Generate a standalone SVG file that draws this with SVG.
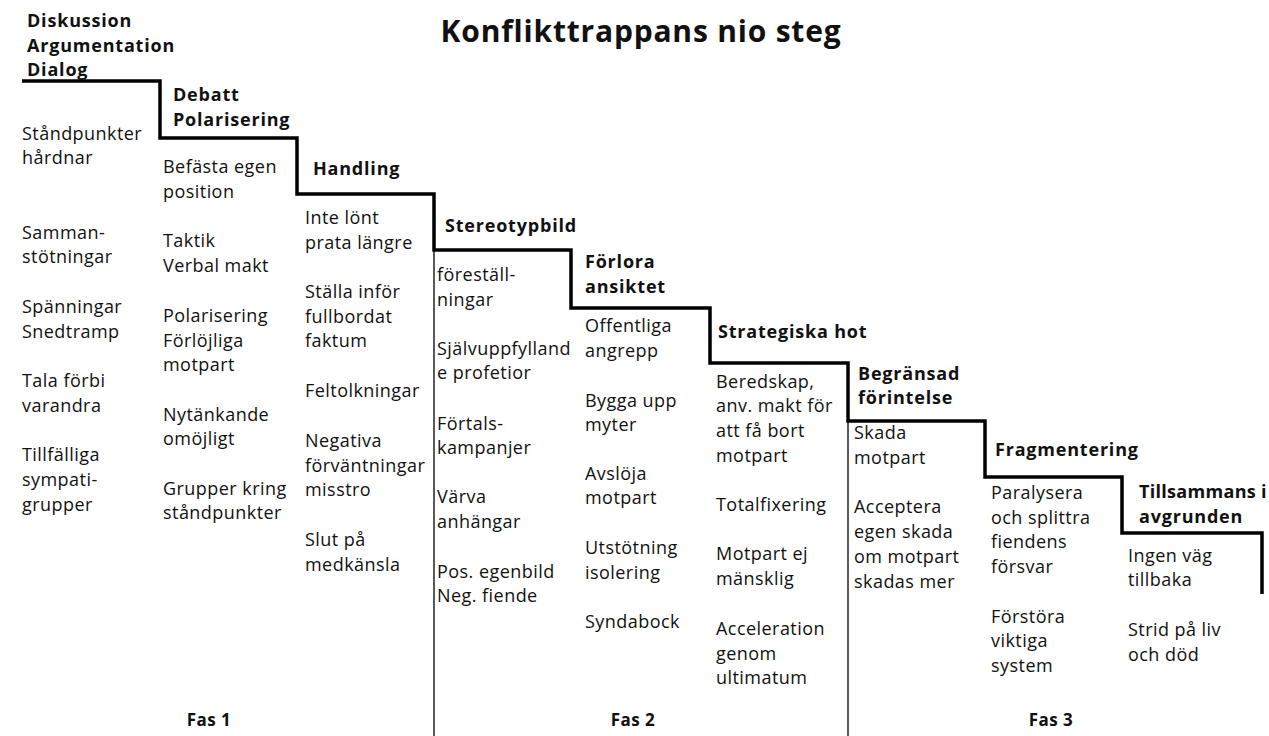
<svg xmlns="http://www.w3.org/2000/svg" width="1269" height="736" viewBox="0 0 1269 736">
<style>
text{font-family:"Open Sans","Liberation Sans",sans-serif;fill:#111}
.t{font-size:18px;letter-spacing:0.45px}
.h{font-size:18px;font-weight:bold;letter-spacing:0.8px}
.f{font-size:17px;font-weight:bold;text-anchor:middle;letter-spacing:0.5px}
.title{font-size:30px;font-weight:bold;text-anchor:middle;letter-spacing:0.8px}
.stair{fill:none;stroke:#000;stroke-width:3.5;stroke-linejoin:miter}
.div{stroke:#000;stroke-width:1.3}
</style>
<rect width="1269" height="736" fill="#fff"/>
<text class="title" x="641" y="42">Konflikttrappans nio steg</text>
<g id="connectors">
<path class="stair" d="M22 81H160V138H297V194H434V250H571V308H710V363H848V421H985V477H1122V533H1262V594"/>
<line class="div" x1="434" y1="250" x2="434" y2="736"/>
<line class="div" x1="848" y1="421" x2="848" y2="736"/>
</g>
<g id="step1">
<text class="h" x="27" y="27">Diskussion</text>
<text class="h" x="27" y="52">Argumentation</text>
<text class="h" x="27" y="76">Dialog</text>
<text class="t" x="22" y="140">Ståndpunkter</text>
<text class="t" x="22" y="164">hårdnar</text>
<text class="t" x="22" y="239">Samman-</text>
<text class="t" x="22" y="263">stötningar</text>
<text class="t" x="22" y="313">Spänningar</text>
<text class="t" x="22" y="338">Snedtramp</text>
<text class="t" x="22" y="387">Tala förbi</text>
<text class="t" x="22" y="412">varandra</text>
<text class="t" x="22" y="461">Tillfälliga</text>
<text class="t" x="22" y="486">sympati-</text>
<text class="t" x="22" y="511">grupper</text>
</g>
<g id="step2">
<text class="h" x="173" y="101">Debatt</text>
<text class="h" x="173" y="126">Polarisering</text>
<text class="t" x="163" y="173">Befästa egen</text>
<text class="t" x="163" y="198">position</text>
<text class="t" x="163" y="247">Taktik</text>
<text class="t" x="163" y="272">Verbal makt</text>
<text class="t" x="163" y="322">Polarisering</text>
<text class="t" x="163" y="347">Förlöjliga</text>
<text class="t" x="163" y="371">motpart</text>
<text class="t" x="163" y="421">Nytänkande</text>
<text class="t" x="163" y="445">omöjligt</text>
<text class="t" x="163" y="495">Grupper kring</text>
<text class="t" x="163" y="519">ståndpunkter</text>
</g>
<g id="step3">
<text class="h" x="313" y="175">Handling</text>
<text class="t" x="305" y="224">Inte lönt</text>
<text class="t" x="305" y="249">prata längre</text>
<text class="t" x="305" y="298">Ställa inför</text>
<text class="t" x="305" y="323">fullbordat</text>
<text class="t" x="305" y="347">faktum</text>
<text class="t" x="305" y="397">Feltolkningar</text>
<text class="t" x="305" y="447">Negativa</text>
<text class="t" x="305" y="472">förväntningar</text>
<text class="t" x="305" y="496">misstro</text>
<text class="t" x="305" y="546">Slut på</text>
<text class="t" x="305" y="571">medkänsla</text>
</g>
<g id="step4">
<text class="h" x="445" y="232">Stereotypbild</text>
<text class="t" x="437" y="281">föreställ-</text>
<text class="t" x="437" y="306">ningar</text>
<text class="t" x="437" y="355">Självuppfylland</text>
<text class="t" x="437" y="379">e profetior</text>
<text class="t" x="437" y="430">Förtals-</text>
<text class="t" x="437" y="454">kampanjer</text>
<text class="t" x="437" y="503">Värva</text>
<text class="t" x="437" y="528">anhängar</text>
<text class="t" x="437" y="578">Pos. egenbild</text>
<text class="t" x="437" y="602">Neg. fiende</text>
</g>
<g id="step5">
<text class="h" x="585" y="268">Förlora</text>
<text class="h" x="585" y="293">ansiktet</text>
<text class="t" x="585" y="332">Offentliga</text>
<text class="t" x="585" y="357">angrepp</text>
<text class="t" x="585" y="407">Bygga upp</text>
<text class="t" x="585" y="431">myter</text>
<text class="t" x="585" y="480">Avslöja</text>
<text class="t" x="585" y="504">motpart</text>
<text class="t" x="585" y="554">Utstötning</text>
<text class="t" x="585" y="579">isolering</text>
<text class="t" x="585" y="628">Syndabock</text>
</g>
<g id="step6">
<text class="h" x="718" y="338">Strategiska hot</text>
<text class="t" x="716" y="388">Beredskap,</text>
<text class="t" x="716" y="412">anv. makt för</text>
<text class="t" x="716" y="437">att få bort</text>
<text class="t" x="716" y="462">motpart</text>
<text class="t" x="716" y="511">Totalfixering</text>
<text class="t" x="716" y="560">Motpart ej</text>
<text class="t" x="716" y="585">mänsklig</text>
<text class="t" x="716" y="635">Acceleration</text>
<text class="t" x="716" y="660">genom</text>
<text class="t" x="716" y="684">ultimatum</text>
</g>
<g id="step7">
<text class="h" x="858" y="380">Begränsad</text>
<text class="h" x="858" y="404">förintelse</text>
<text class="t" x="854" y="439">Skada</text>
<text class="t" x="854" y="464">motpart</text>
<text class="t" x="854" y="513">Acceptera</text>
<text class="t" x="854" y="538">egen skada</text>
<text class="t" x="854" y="563">om motpart</text>
<text class="t" x="854" y="588">skadas mer</text>
</g>
<g id="step8">
<text class="h" x="995" y="456">Fragmentering</text>
<text class="t" x="991" y="499">Paralysera</text>
<text class="t" x="991" y="524">och splittra</text>
<text class="t" x="991" y="548">fiendens</text>
<text class="t" x="991" y="573">försvar</text>
<text class="t" x="991" y="623">Förstöra</text>
<text class="t" x="991" y="647">viktiga</text>
<text class="t" x="991" y="672">system</text>
</g>
<g id="step9">
<text class="h" x="1139" y="498" style="letter-spacing:0.3px">Tillsammans i</text>
<text class="h" x="1139" y="523">avgrunden</text>
<text class="t" x="1128" y="562">Ingen väg</text>
<text class="t" x="1128" y="586">tillbaka</text>
<text class="t" x="1128" y="636">Strid på liv</text>
<text class="t" x="1128" y="661">och död</text>
</g>
<g id="phases">
<text class="f" x="209" y="726">Fas 1</text>
<text class="f" x="633" y="726">Fas 2</text>
<text class="f" x="1051" y="726">Fas 3</text>
</g>
</svg>
